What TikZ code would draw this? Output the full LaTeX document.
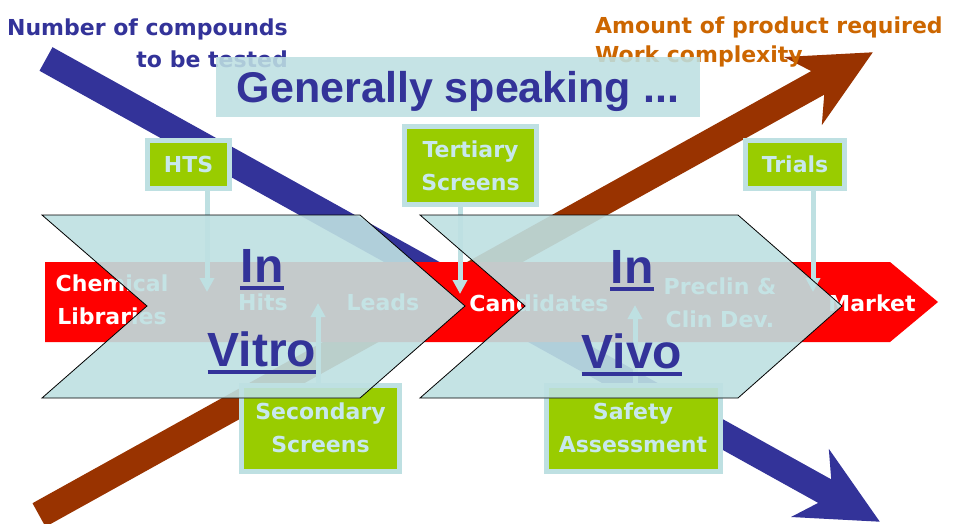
\documentclass[tikz,border=0pt]{standalone}
\usepackage{fontspec}
\setmainfont{Liberation Sans}
\newfontfamily\comic{DejaVu Sans}
\usetikzlibrary{arrows.meta}
\definecolor{navy}{RGB}{51,51,153}
\definecolor{rust}{RGB}{153,51,0}
\definecolor{pale}{RGB}{190,224,226}
\definecolor{lime}{RGB}{153,204,0}
\definecolor{ochre}{RGB}{204,102,0}
\definecolor{boxtext}{RGB}{200,232,236}
\definecolor{bandred}{RGB}{255,0,0}
\pgfdeclarelayer{backlayer}
\pgfdeclarelayer{stemlayer}
\pgfsetlayers{backlayer,stemlayer,main}
\begin{document}
\begin{tikzpicture}[x=1pt,y=-1pt,
  comicfont/.style={font=\comic\bfseries\fontsize{22}{33}\selectfont},
  bandtxt/.style={comicfont, text=white, inner sep=0pt, align=center},
  toplabel/.style={comicfont, inner sep=0pt},
  gbox/.style={comicfont, draw=pale, line width=5pt, fill=lime, text=boxtext,
    align=center, inner sep=0pt},
  stem/.style={draw=pale, line width=5pt, -{Triangle[width=14pt,length=14pt]}},
  chev/.style={fill=pale, fill opacity=0.9, draw=black, line width=0.8pt},
  chevtxt/.style={font=\bfseries\fontsize{48}{50}\selectfont, text=navy, inner sep=0pt},
  uline/.style={draw=navy, line width=3.5pt},
  genbox/.style={fill=pale, fill opacity=0.88, text opacity=1, text=navy,
    font=\bfseries\fontsize{43}{45}\selectfont, inner sep=0pt,
    minimum width=484pt, minimum height=60pt, text height=31pt, text depth=0pt}
]
\useasboundingbox (0,0) rectangle (954,523);
\clip (0,0) rectangle (954,523);

\begin{pgfonlayer}{backlayer}
\fill[white] (0,0) rectangle (954,523);
% big trend arrows
\fill[rust] (32.5,503.2) -- (811.2,71.1) -- (784,57) -- (872.8,52.3) -- (821.8,125.2)
  -- (824.2,94.7) -- (45.5,526.8) -- cycle;
\fill[navy] (52.5,47.2) -- (831.2,479.3) -- (828.8,448.8) -- (879.8,521.7) -- (791,517)
  -- (818.2,502.9) -- (39.5,70.8) -- cycle;
% red pipeline band
\fill[bandred] (45,262) -- (890,262) -- (938,302) -- (890,342) -- (45,342) -- cycle;
\node[bandtxt] (chem) at (112,300) {Chemical\\Libraries};
\node[bandtxt, anchor=base] (hits) at (263,310) {Hits};
\node[bandtxt, anchor=base] (leads) at (383,310) {Leads};
\node[bandtxt, anchor=base] (cand) at (539,311) {Candidates};
\node[bandtxt] (preclin) at (720,303) {Preclin \&\\Clin Dev.};
\node[bandtxt, anchor=base] (market) at (872,311) {Market};
\end{pgfonlayer}

% green label boxes
\node[gbox, minimum width=82pt, minimum height=48pt] (hts) at (188.5,164.5) {HTS};
\node[gbox, minimum width=132pt, minimum height=78pt] (tert) at (470.5,165.5) {Tertiary\\Screens};
\node[gbox, minimum width=99pt, minimum height=48pt] (trials) at (795,164.5) {Trials};
\node[gbox, minimum width=158pt, minimum height=86pt] (sec) at (320.5,428) {Secondary\\Screens};
\node[gbox, minimum width=174pt, minimum height=86pt] (safe) at (633,428) {Safety\\Assessment};

% stems (drawn beneath the boxes)
\coordinate (htsTip) at (207,292);
\coordinate (tertTip) at (460,294);
\coordinate (trialsTip) at (813,292);
\coordinate (secTip) at (318,303);
\coordinate (safeTip) at (635,305);
\begin{pgfonlayer}{stemlayer}
\draw[stem] (hts.south -| htsTip) -- (htsTip);
\draw[stem] (tert.south -| tertTip) -- (tertTip);
\draw[stem] (trials.south -| trialsTip) -- (trialsTip);
\draw[stem] (sec.north -| secTip) -- (secTip);
\draw[stem] (safe.north -| safeTip) -- (safeTip);
\end{pgfonlayer}

% chevrons
\filldraw[chev] (42,215) -- (360,215) -- (465,306) -- (360,398) -- (42,398) -- (147,306) -- cycle;
\filldraw[chev] (420,215) -- (738,215) -- (842,306) -- (738,398) -- (420,398) -- (525,306) -- cycle;

\node[chevtxt, anchor=base] (in1) at (262,282) {In};
\node[chevtxt, anchor=base] (vitro) at (262,366) {Vitro};
\node[chevtxt, anchor=base] (in2) at (632,283) {In};
\node[chevtxt, anchor=base] (vivo) at (632,368) {Vivo};
\foreach \w in {in1,vitro,in2,vivo}{
  \draw[uline] ([yshift=-6pt]\w.base west) -- ([yshift=-6pt]\w.base east);
}

% top labels
\node[toplabel, text=navy, anchor=base east] (num1) at (288,35) {Number of compounds};
\node[toplabel, text=navy, anchor=base east] (num2) at (288,67) {to be tested};
\node[toplabel, text=ochre, anchor=base west] (amt1) at (595,33) {Amount of product required};
\node[toplabel, text=ochre, anchor=base west] (amt2) at (595,62) {Work complexity};

% title box
\node[genbox] (gen) at (458,87) {Generally speaking ...};
\end{tikzpicture}
\end{document}
